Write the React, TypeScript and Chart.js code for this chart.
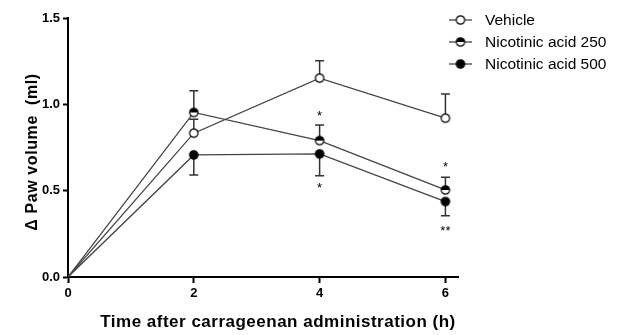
import React, { useEffect, useRef } from "react";
import { Chart, registerables } from "chart.js";
Chart.register(...registerables);

const timeHours = [0, 2, 4, 6];
const xTicks = [0, 2, 4, 6];
const yTicks = [0, 0.5, 1.0, 1.5];
const yTickLabels = ["0.0", "0.5", "1.0", "1.5"];
const vehicle = [0, 0.833, 1.152, 0.92];
const vehicleErr = [0, 0.08, 0.1, 0.14];
const nic250 = [0, 0.953, 0.79, 0.504];
const nic250Err = [0, 0.125, 0.09, 0.074];
const nic500 = [0, 0.707, 0.713, 0.437];
const nic500Err = [0, 0.116, 0.126, 0.082];
const seriesNames = ["Vehicle", "Nicotinic acid 250", "Nicotinic acid 500"];
const errDirections = [1, 1, -1];
const starX = [4, 4, 6, 6];
const starY = [0.95, 0.53, 0.65, 0.28];
const starText = ["*", "*", "*", "**"];
const xTitle = "Time after carrageenan administration (h)";
const yTitle = "\u0394 Paw volume  (ml)";

const FONT = "Arial, 'Liberation Sans', sans-serif";

function makeMarker(kind: string): HTMLCanvasElement {
  const c = document.createElement("canvas");
  c.width = 12;
  c.height = 12;
  const ctx = c.getContext("2d")!;
  const r = 4.2;
  ctx.beginPath();
  ctx.arc(6, 6, r, 0, Math.PI * 2);
  ctx.fillStyle = kind === "filled" ? "#000" : "#fff";
  ctx.fill();
  if (kind === "half") {
    ctx.beginPath();
    ctx.arc(6, 6, r, Math.PI, 0);
    ctx.closePath();
    ctx.fillStyle = "#000";
    ctx.fill();
  }
  ctx.beginPath();
  ctx.arc(6, 6, r, 0, Math.PI * 2);
  ctx.strokeStyle = "#000";
  ctx.lineWidth = 1.2;
  ctx.stroke();
  return c;
}

export default function App() {
  const ref = useRef<HTMLCanvasElement>(null);
  useEffect(() => {
    document.body.style.margin = "0";
    const markers = [makeMarker("open"), makeMarker("half"), makeMarker("filled")];
    const values = [vehicle, nic250, nic500];
    const errs = [vehicleErr, nic250Err, nic500Err];

    const overlay = {
      id: "overlay",
      beforeDatasetsDraw(chart: any) {
        const ctx = chart.ctx;
        const xs = chart.scales.x;
        const ys = chart.scales.y;
        ctx.save();
        ctx.strokeStyle = "#333";
        ctx.lineWidth = 1.5;
        values.forEach((vals, i) => {
          vals.forEach((v, j) => {
            const e = errs[i][j];
            if (!e) return;
            const x = xs.getPixelForValue(timeHours[j]);
            const y1 = ys.getPixelForValue(v);
            const y2 = ys.getPixelForValue(v + errDirections[i] * e);
            ctx.beginPath();
            ctx.moveTo(x, y1);
            ctx.lineTo(x, y2);
            ctx.moveTo(x - 4.5, y2);
            ctx.lineTo(x + 4.5, y2);
            ctx.stroke();
          });
        });
        ctx.restore();
      },
      afterDraw(chart: any) {
        const ctx = chart.ctx;
        const xs = chart.scales.x;
        const ys = chart.scales.y;
        ctx.save();
        // stars
        ctx.fillStyle = "#000";
        ctx.font = `13px ${FONT}`;
        ctx.textAlign = "center";
        ctx.textBaseline = "middle";
        starText.forEach((t, k) => {
          ctx.fillText(t, xs.getPixelForValue(starX[k]), ys.getPixelForValue(starY[k]) + 3);
        });
        // titles
        ctx.font = `bold 17px ${FONT}`;
        (ctx as any).letterSpacing = "0.5px";
        ctx.fillText(xTitle, 278, 322);
        ctx.font = `bold 16px ${FONT}`;
        (ctx as any).letterSpacing = "0.6px";
        ctx.save();
        ctx.translate(33, 152);
        ctx.rotate(-Math.PI / 2);
        ctx.fillText(yTitle, 0, 0);
        ctx.restore();
        (ctx as any).letterSpacing = "0px";
        // legend
        ctx.textAlign = "left";
        ctx.font = `15.5px ${FONT}`;
        seriesNames.forEach((name, i) => {
          const y = 20 + i * 22;
          ctx.strokeStyle = "#444";
          ctx.lineWidth = 1.3;
          ctx.beginPath();
          ctx.moveTo(449, y);
          ctx.lineTo(472, y);
          ctx.stroke();
          ctx.drawImage(markers[i], 460.5 - 6, y - 6);
          ctx.fillStyle = "#000";
          ctx.fillText(name, 485, y + 1);
        });
        ctx.restore();
      },
    };

    const chart = new Chart(ref.current!, {
      type: "line",
      data: {
        datasets: values.map((vals, i) => ({
          label: seriesNames[i],
          data: vals.map((v, j) => ({ x: timeHours[j], y: v })),
          borderColor: "#444",
          borderWidth: 1.3,
          pointStyle: vals.map((_, j) => (j === 0 ? false : markers[i])) as any,
          pointRadius: 4,
          tension: 0,
        })),
      },
      options: {
        animation: false,
        responsive: false,
        maintainAspectRatio: false,
        events: [],
        layout: { padding: { left: 0, right: 162, top: 18, bottom: 0 } },
        plugins: { legend: { display: false }, tooltip: { enabled: false } },
        scales: {
          x: {
            type: "linear",
            min: 0,
            max: 6.2,
            afterFit(scale: any) {
              scale.height = 58;
            },
            afterBuildTicks(scale: any) {
              scale.ticks = xTicks.map((v) => ({ value: v }));
            },
            grid: { drawOnChartArea: false, drawTicks: true, tickLength: 6, tickColor: "#000", tickWidth: 2 },
            border: { color: "#000", width: 2 },
            ticks: {
              color: "#000",
              font: { family: FONT, size: 13, weight: "bold" },
              padding: 3,
              maxRotation: 0,
            },
          },
          y: {
            type: "linear",
            min: 0,
            max: 1.5,
            afterFit(scale: any) {
              scale.width = 68;
            },
            afterBuildTicks(scale: any) {
              scale.ticks = yTicks.map((v) => ({ value: v }));
            },
            grid: { drawOnChartArea: false, drawTicks: true, tickLength: 5, tickColor: "#000", tickWidth: 2 },
            border: { color: "#000", width: 2 },
            ticks: {
              color: "#000",
              font: { family: FONT, size: 13, weight: "bold" },
              padding: 3,
              callback: (v: any) => yTickLabels[yTicks.indexOf(Number(v))] ?? "",
            },
          },
        },
      },
      plugins: [overlay],
    } as any);
    return () => chart.destroy();
  }, []);
  return <canvas ref={ref} width={620} height={335} style={{ display: "block" }} />;
}
